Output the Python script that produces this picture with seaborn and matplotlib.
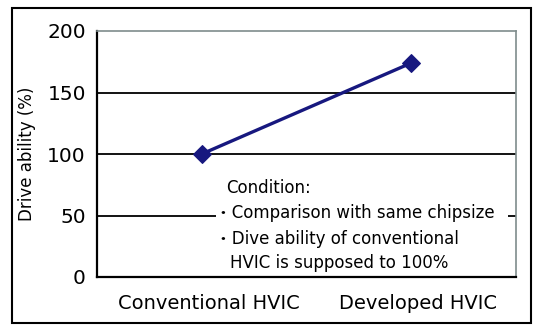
import matplotlib
matplotlib.use("Agg")
import matplotlib.pyplot as plt
import matplotlib.transforms as mtransforms
import seaborn as sns
import pandas as pd
from matplotlib.patches import Rectangle

categories = ["Conventional HVIC", "Developed HVIC"]
drive_ability = [100, 174]
y_ticks = [0, 50, 100, 150, 200]
note_lines = ["Condition:", "・Comparison with same chipsize",
              "・Dive ability of conventional", "HVIC is supposed to 100%"]

sns.set_theme(style="white")
plt.rcParams['font.family'] = ['DejaVu Sans', 'Noto Sans CJK JP']

W, H = 540, 335
fig = plt.figure(figsize=(W / 100, H / 100), dpi=100)
ax = fig.add_axes([97 / W, 1 - 277 / H, (516 - 97) / W, (277 - 31) / H])

df = pd.DataFrame({"cat": categories, "val": drive_ability})
sns.lineplot(data=df, x="cat", y="val", ax=ax, color="#17187f", linewidth=2.4,
             marker="D", markersize=9, markeredgecolor="#17187f", zorder=5)

ax.set_xlim(-0.5, 1.5)
ax.set_ylim(0, 200)
ax.set_yticks(y_ticks)
ax.set_yticklabels([str(v) for v in y_ticks], fontsize=14.5, color="black")
ax.set_xticks([0, 1])
ax.set_xticklabels(categories, fontsize=14, color="black")
ax.tick_params(axis="y", length=0, pad=8)
ax.tick_params(axis="x", length=0, pad=12)
ax.set_xlabel("")
ax.set_ylabel("Drive ability (%)", fontsize=12, labelpad=8, color="black")

offset = mtransforms.ScaledTranslation(7 / 100, 0, fig.dpi_scale_trans)
for lab in ax.get_xticklabels():
    lab.set_transform(lab.get_transform() + offset)

for v in [50, 100, 150]:
    ax.axhline(v, color="black", linewidth=1.3, zorder=1)

for side in ["left", "bottom"]:
    ax.spines[side].set_color("black")
    ax.spines[side].set_linewidth(1.6)
for side in ["top", "right"]:
    ax.spines[side].set_color("#7f8c8c")
    ax.spines[side].set_linewidth(1.2)

# white note box in axes fraction
bx0 = (216 - 97) / (516 - 97)
bx1 = (508 - 97) / (516 - 97)
by0 = (277 - 273) / (277 - 31)
by1 = (277 - 176) / (277 - 31)
ax.add_patch(Rectangle((bx0, by0), bx1 - bx0, by1 - by0, transform=ax.transAxes,
                       facecolor="white", edgecolor="none", zorder=3))

ys_px = [188, 213, 239, 263]
xs_px = [226, 215, 215, 230]
for line, xp, yp in zip(note_lines, xs_px, ys_px):
    fig.text(xp / W, 1 - yp / H, line, fontsize=12, va="center", ha="left",
             color="black", zorder=6)

# outer frame
fig.patches.append(Rectangle((12 / W, 1 - 323 / H), (531 - 12) / W, (323 - 8) / H,
                             transform=fig.transFigure, facecolor="none",
                             edgecolor="black", linewidth=1.5))

fig.savefig("out.png", dpi=100)
